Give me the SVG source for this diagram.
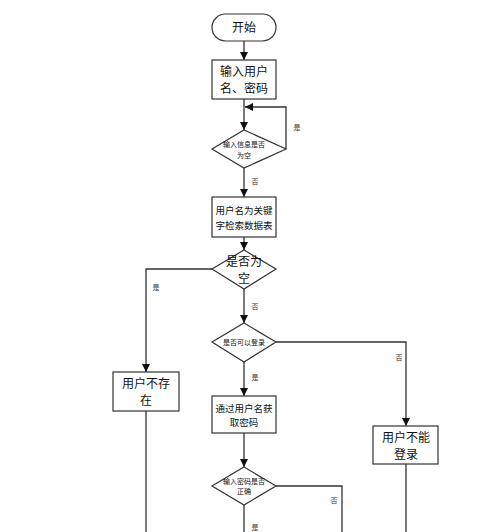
<svg xmlns="http://www.w3.org/2000/svg" width="500" height="532" viewBox="0 0 500 532">
<style>
.n{fill:#fff;stroke:#333;stroke-width:1.2}
.c{fill:none;stroke:#333;stroke-width:1.3}
text{font-family:"Noto Sans CJK SC","Liberation Sans",sans-serif;fill:#111;text-anchor:middle}
.l{font-size:12px}
.m{font-size:9.5px}
.s{font-size:7px}
.lb{font-size:7px;fill:#333}
</style>
<defs>
<marker id="a" viewBox="0 0 10 10" refX="10" refY="5" markerWidth="8" markerHeight="8" markerUnits="userSpaceOnUse" orient="auto">
<path d="M0,0 L10,5 L0,10 z" fill="#111"/>
</marker>
</defs>
<rect width="500" height="532" fill="#fff"/>
<g id="connectors">
<path class="c" d="M244,41 V60" marker-end="url(#a)"/>
<path class="c" d="M244,99 V130" marker-end="url(#a)"/>
<path class="c" d="M286,149 V107 H245" marker-end="url(#a)"/>
<path class="c" d="M244,168 V197" marker-end="url(#a)"/>
<path class="c" d="M244,237 V250" marker-end="url(#a)"/>
<path class="c" d="M212,269 H146 V372" marker-end="url(#a)"/>
<path class="c" d="M244,289 V323" marker-end="url(#a)"/>
<path class="c" d="M276,342 H406 V426" marker-end="url(#a)"/>
<path class="c" d="M244,362 V396" marker-end="url(#a)"/>
<path class="c" d="M244,433 V467" marker-end="url(#a)"/>
<path class="c" d="M276,486 H342 V532"/>
<path class="c" d="M244,505 V532"/>
<path class="c" d="M146,410 V532"/>
<path class="c" d="M406,464 V532"/>
<text class="lb" x="297" y="130">是</text>
<text class="lb" x="255" y="184">否</text>
<text class="lb" x="156" y="290">是</text>
<text class="lb" x="255" y="309">否</text>
<text class="lb" x="399" y="360">否</text>
<text class="lb" x="255" y="380">是</text>
<text class="lb" x="334" y="503">否</text>
<text class="lb" x="255" y="530">是</text>
</g>
<g id="start">
<rect class="n" x="212" y="14" width="64" height="27" rx="13.5"/>
<text class="l" x="244" y="32">开始</text>
</g>
<g id="input">
<rect class="n" x="212" y="60" width="64" height="39"/>
<text class="l" x="244" y="76">输入用户</text>
<text class="l" x="244" y="93">名、密码</text>
</g>
<g id="d1">
<polygon class="n" points="244,130 286,149 244,168 212,149"/>
<text class="s" x="244" y="147">输入信息是否</text>
<text class="s" x="244" y="158">为空</text>
</g>
<g id="search">
<rect class="n" x="212" y="197" width="64" height="40"/>
<text class="m" x="244" y="214">用户名为关键</text>
<text class="m" x="244" y="229">字检索数据表</text>
</g>
<g id="d2">
<polygon class="n" points="244,250 276,269 244,289 212,269"/>
<text class="l" x="244" y="266">是否为</text>
<text class="l" x="244" y="283">空</text>
</g>
<g id="d3">
<polygon class="n" points="244,323 276,342 244,362 212,342"/>
<text class="s" x="244" y="345">是否可以登录</text>
</g>
<g id="notexist">
<rect class="n" x="113" y="372" width="66" height="39"/>
<text class="l" x="146" y="388">用户不存</text>
<text class="l" x="146" y="405">在</text>
</g>
<g id="getpwd">
<rect class="n" x="212" y="396" width="64" height="37"/>
<text class="m" x="244" y="412">通过用户名获</text>
<text class="m" x="244" y="426">取密码</text>
</g>
<g id="cannot">
<rect class="n" x="373" y="426" width="65" height="38"/>
<text class="l" x="406" y="442">用户不能</text>
<text class="l" x="406" y="459">登录</text>
</g>
<g id="d4">
<polygon class="n" points="244,467 276,486 244,505 212,486"/>
<text class="s" x="244" y="484">输入密码是否</text>
<text class="s" x="244" y="494">正确</text>
</g>
</svg>
